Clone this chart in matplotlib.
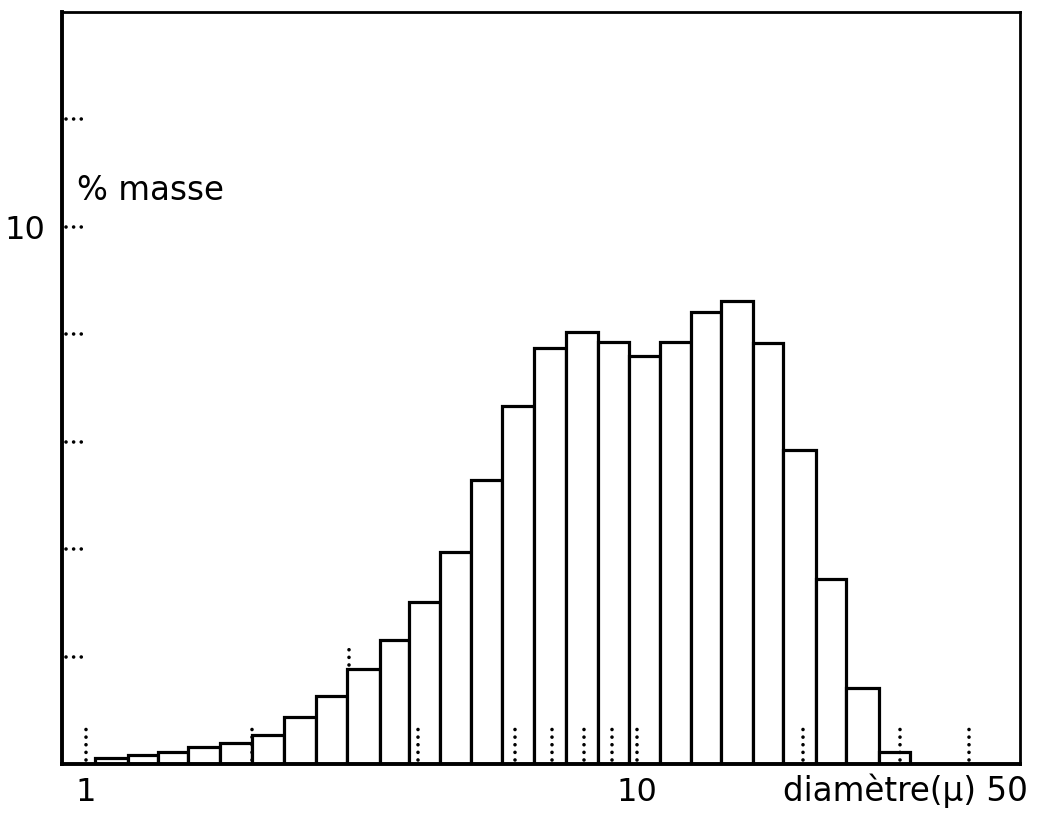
import numpy as np
import matplotlib
matplotlib.use("Agg")
import matplotlib.pyplot as plt

# --------------------------------
# data
# --------------------------------
bin_edges = [1.04, 1.19, 1.35, 1.53, 1.75, 2.0, 2.29, 2.61, 2.97, 3.41, 3.86,
             4.38, 5.0, 5.69, 6.51, 7.43, 8.5, 9.67, 11.0, 12.5, 14.2, 16.2,
             18.4, 21.1, 23.9, 27.4, 31.2]
mass_pct = [0.12, 0.17, 0.22, 0.32, 0.40, 0.54, 0.87, 1.26, 1.76, 2.30, 3.02,
            3.94, 5.28, 6.67, 7.74, 8.05, 7.86, 7.60, 7.86, 8.41, 8.62, 7.83,
            5.84, 3.44, 1.41, 0.23]

x_minor = [1, 2, 3, 4, 6, 7, 8, 9, 10, 20, 30, 40]
y_minor = [2, 4, 6, 8, 10, 12]
x_labels = ["1", "10"]
y_labels = ["10"]

plt.rcParams["font.family"] = ["DejaVu Sans"]

fig = plt.figure(figsize=(10.4, 8.14), dpi=100)
ax = fig.add_axes([0.0596, 0.0614, 0.9214, 0.9239])

edges = np.array(bin_edges)
ax.bar(edges[:-1], mass_pct, width=np.diff(edges), align="edge",
       color="white", edgecolor="black", linewidth=2.3, zorder=2)

ax.set_xscale("log")
ax.set_xlim(0.905, 49.5)
ax.set_ylim(0, 14)

# dotted plotter ticks (round dots)
dots = (0, (0.01, 2.1))
hl = ax.hlines(y_minor, 0.004, 0.024, transform=ax.get_yaxis_transform(),
               colors="black", linestyles=dots, linewidth=2.6, zorder=3)
hl.set_capstyle("round")
low = [0.07] * len(x_minor)
high = [0.72] * len(x_minor)
low[2], high[2] = 1.85, 2.15
vl = ax.vlines(x_minor, low, high, colors="black", linestyles=dots,
               linewidth=2.6, zorder=3)
vl.set_capstyle("round")

# labels
ax.set_xticks([1, 10])
ax.set_xticklabels(x_labels)
ax.xaxis.set_minor_locator(matplotlib.ticker.NullLocator())
ax.set_yticks([10])
ax.set_yticklabels(y_labels)
ax.tick_params(axis="x", length=0, pad=9, labelsize=23)
ax.tick_params(axis="y", length=0, pad=12, labelsize=23)

ax.text(0.016, 0.762, "% masse", transform=ax.transAxes, fontsize=23.5,
        ha="left", va="center")
ax.text(1.008, -0.036, "diamètre(μ) 50", transform=ax.transAxes,
        fontsize=23.5, ha="right", va="center")

for side, lw in [("left", 2.8), ("bottom", 2.8), ("top", 2.0), ("right", 2.0)]:
    ax.spines[side].set_linewidth(lw)

fig.savefig("out.png", dpi=100, facecolor="white")
